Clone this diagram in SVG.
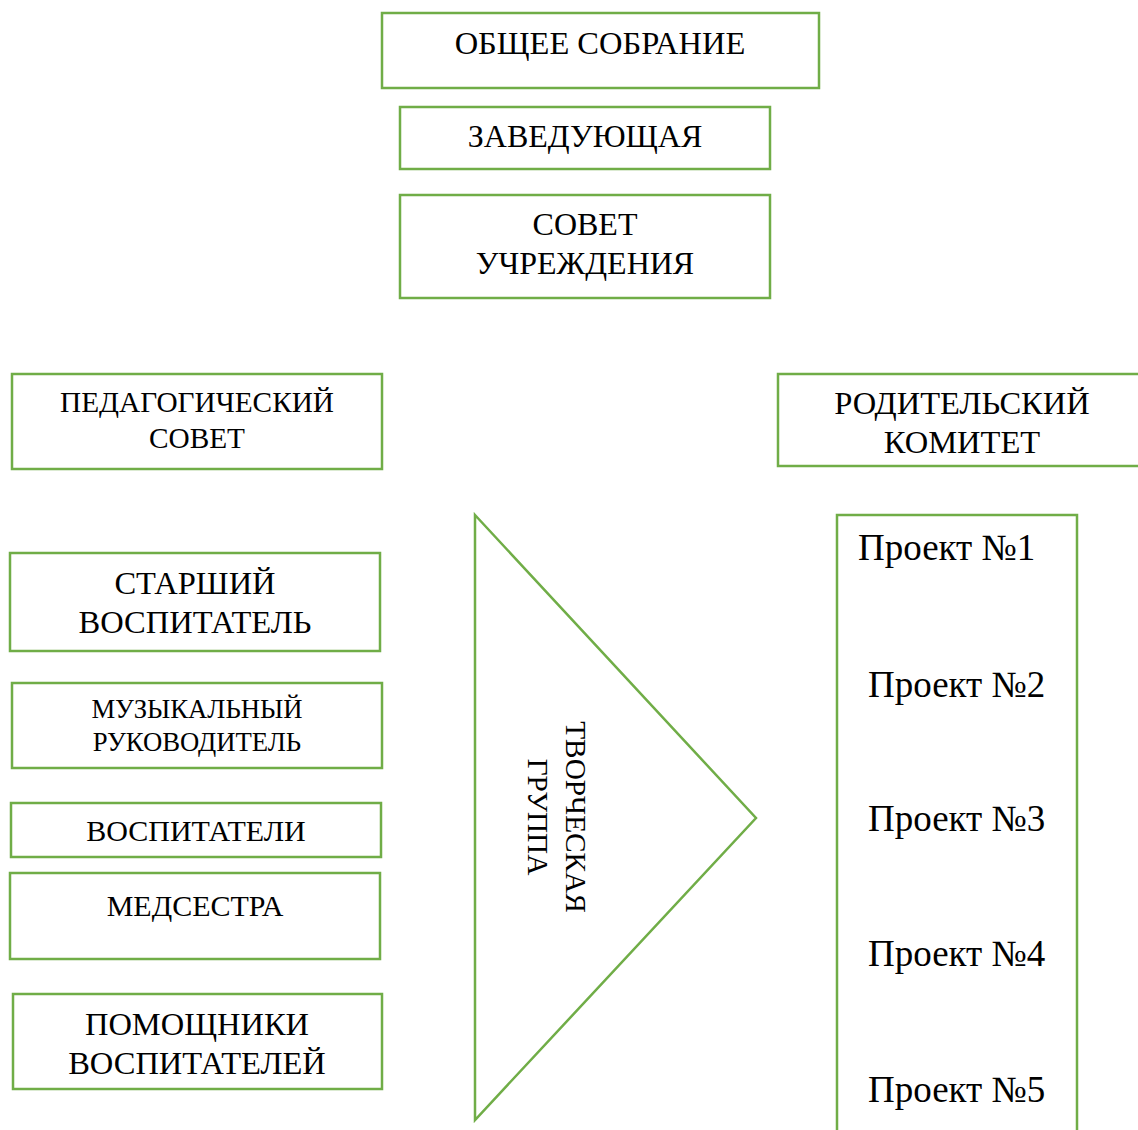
<svg xmlns="http://www.w3.org/2000/svg" width="1138" height="1130" viewBox="0 0 1138 1130">
<style>
.b{fill:#fff;stroke:#70ad47;stroke-width:2.5}
.t{font-family:"Liberation Serif","Times New Roman",serif;fill:#000;text-anchor:middle}
.p{font-family:"Liberation Serif","Times New Roman",serif;fill:#000;font-size:37px}
</style>
<rect width="1138" height="1130" fill="#fff"/>
<g id="connectors"></g>
<g id="obshchee"><rect class="b" x="382" y="13" width="437" height="75"/><text class="t" x="600" y="54" font-size="32.5">ОБЩЕЕ СОБРАНИЕ</text></g>
<g id="zaved"><rect class="b" x="400" y="107" width="370" height="62"/><text class="t" x="585" y="147" font-size="32">ЗАВЕДУЮЩАЯ</text></g>
<g id="sovet"><rect class="b" x="400" y="195" width="370" height="103"/><text class="t" x="585" y="235" font-size="32">СОВЕТ</text><text class="t" x="585" y="274" font-size="32">УЧРЕЖДЕНИЯ</text></g>
<g id="pedsovet"><rect class="b" x="12" y="374" width="370" height="95"/><text class="t" x="197" y="412" font-size="29.3">ПЕДАГОГИЧЕСКИЙ</text><text class="t" x="197" y="448" font-size="29.3">СОВЕТ</text></g>
<g id="rodkom"><rect class="b" x="778" y="374" width="362" height="92"/><text class="t" x="962" y="414" font-size="32.5">РОДИТЕЛЬСКИЙ</text><text class="t" x="962" y="453" font-size="32.5">КОМИТЕТ</text></g>
<g id="starshiy"><rect class="b" x="10" y="553" width="370" height="98"/><text class="t" x="195" y="594" font-size="32.5">СТАРШИЙ</text><text class="t" x="195" y="633" font-size="32.5">ВОСПИТАТЕЛЬ</text></g>
<g id="muz"><rect class="b" x="12" y="683" width="370" height="85"/><text class="t" x="197" y="718" font-size="26.7">МУЗЫКАЛЬНЫЙ</text><text class="t" x="197" y="751" font-size="26.7">РУКОВОДИТЕЛЬ</text></g>
<g id="vosp"><rect class="b" x="11" y="803" width="370" height="54"/><text class="t" x="196" y="841" font-size="30">ВОСПИТАТЕЛИ</text></g>
<g id="med"><rect class="b" x="10" y="873" width="370" height="86"/><text class="t" x="195" y="916" font-size="30">МЕДСЕСТРА</text></g>
<g id="pomoshch"><rect class="b" x="13" y="994" width="369" height="95"/><text class="t" x="197" y="1035" font-size="32.5">ПОМОЩНИКИ</text><text class="t" x="197" y="1074" font-size="32.5">ВОСПИТАТЕЛЕЙ</text></g>
<g id="tvorch"><polygon class="b" points="475,515 756,818 475,1120"/><text class="t" font-size="29.3" transform="translate(566,817) rotate(90)">ТВОРЧЕСКАЯ</text><text class="t" font-size="29.3" transform="translate(528,817) rotate(90)">ГРУППА</text></g>
<g id="proekty"><rect class="b" x="837" y="515" width="240" height="630"/>
<text class="p" x="858" y="560">Проект №1</text>
<text class="p" x="868" y="697">Проект №2</text>
<text class="p" x="868" y="831">Проект №3</text>
<text class="p" x="868" y="966">Проект №4</text>
<text class="p" x="868" y="1102">Проект №5</text>
</g>
</svg>
